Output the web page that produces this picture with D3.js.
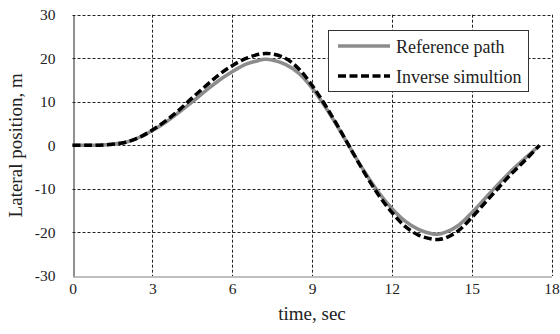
<!DOCTYPE html>
<html>
<head>
<meta charset="utf-8">
<script src="https://cdn.jsdelivr.net/npm/d3@7"></script>
<style>
  html, body { margin: 0; padding: 0; background: #fff; }
  svg { display: block; }
  text { font-family: "Liberation Serif", "Times New Roman", serif; fill: #222; }
</style>
</head>
<body>
<svg id="chart" width="560" height="334"></svg>
<script>
// Time samples (s) shared by both series
const timeSec = [0, 0.5, 1, 1.5, 2, 2.5, 3, 3.5, 4, 4.5, 5, 5.5, 6, 6.5, 7, 7.25, 7.5, 8, 8.5, 9,
  9.5, 10, 10.5, 11, 11.5, 12, 12.5, 13, 13.5, 13.75, 14, 14.5, 15, 15.5, 16, 16.5, 17, 17.55];

// Lateral position of the reference path (m)
const referencePath = [0, 0, 0.05, 0.25, 0.7, 1.8, 3.4, 5.3, 7.6, 10.0, 12.5, 14.9, 16.9, 18.6, 19.5, 19.75, 19.6, 18.6, 16.6, 13.2,
  8.8, 3.9, -1.3, -6.3, -10.8, -14.5, -17.4, -19.3, -20.3, -20.4, -20.0, -18.4, -15.5, -12.2, -8.9, -5.8, -3.0, 0];

// Lateral position from the inverse simulation (m)
const inverseSimulation = [0, 0, 0.05, 0.25, 0.7, 1.8, 3.5, 5.6, 8.1, 10.9, 13.6, 16.2, 18.3, 19.9, 20.9, 21.1, 21.0, 20.0, 17.6, 13.8,
  9.2, 4.1, -1.3, -6.6, -11.4, -15.4, -18.6, -20.6, -21.5, -21.6, -21.3, -19.6, -16.6, -13.2, -9.8, -6.5, -3.5, 0];

const xTicks = [0, 3, 6, 9, 12, 15, 18];
const yTicks = [-30, -20, -10, 0, 10, 20, 30];
const seriesNames = ["Reference path", "Inverse simultion"];
const xTitle = "time, sec";
const yTitle = "Lateral position, m";

const svg = d3.select("#chart");
const x = d3.scaleLinear().domain([0, 18]).range([72.5, 551.5]);
const y = d3.scaleLinear().domain([-30, 30]).range([276, 14.7]);

// Dashed grid
const grid = svg.append("g");
grid.selectAll("line.v").data(xTicks.filter(d => d !== 0)).join("line")
  .attr("x1", d => Math.round(x(d)) + 0.5).attr("x2", d => Math.round(x(d)) + 0.5)
  .attr("y1", y(30)).attr("y2", y(-30))
  .attr("stroke", "#222").attr("stroke-width", 1).attr("stroke-dasharray", "3,2");
grid.selectAll("line.h").data(yTicks.filter(d => d !== -30)).join("line")
  .attr("x1", x(0)).attr("x2", x(18))
  .attr("y1", d => Math.round(y(d)) + 0.5).attr("y2", d => Math.round(y(d)) + 0.5)
  .attr("stroke", "#222").attr("stroke-width", 1).attr("stroke-dasharray", "3,2");

// Axes (plain hyphen for negative labels)
const fmt = d => String(d);
const xAxis = svg.append("g").attr("transform", `translate(0,${Math.round(y(-30)) + 0.5})`)
  .call(d3.axisBottom(x).tickValues(xTicks).tickFormat(fmt).tickSize(0).tickPadding(6));
xAxis.select(".domain").attr("stroke", "#808080");
xAxis.selectAll("text").style("font-size", "15.5px").attr("fill", "#222")
  .style("font-family", "'Liberation Serif', serif");

const yAxis = svg.append("g").attr("transform", `translate(${Math.round(x(0)) + 0.5},0)`)
  .call(d3.axisLeft(y).tickValues(yTicks).tickFormat(fmt).tickSize(0).tickPadding(18));
yAxis.select(".domain").attr("stroke", "#222");
yAxis.selectAll("text").style("font-size", "15.5px").attr("fill", "#222")
  .style("font-family", "'Liberation Serif', serif");

// Axis titles
svg.append("text").attr("x", x(9)).attr("y", 320).attr("text-anchor", "middle")
  .style("font-size", "19px").text(xTitle);
svg.append("text").attr("transform", `translate(22,${y(0)}) rotate(-90)`)
  .attr("text-anchor", "middle").style("font-size", "19px").text(yTitle);

// Series lines
const line = vals => d3.line()
  .x((d, i) => x(timeSec[i]))
  .y(d => y(d))
  .curve(d3.curveCatmullRom.alpha(0.5))(vals);

svg.append("path").attr("d", line(referencePath))
  .attr("fill", "none").attr("stroke", "#8c8c8c").attr("stroke-width", 3.5);
svg.append("path").attr("d", line(inverseSimulation))
  .attr("fill", "none").attr("stroke", "#000").attr("stroke-width", 3.5)
  .attr("stroke-dasharray", "8,3.5");

// Legend
const lg = svg.append("g");
lg.append("rect").attr("x", 328.5).attr("y", 30.5).attr("width", 200).attr("height", 61)
  .attr("fill", "#fff").attr("stroke", "#333").attr("stroke-width", 1);
const legendStyles = [
  { stroke: "#8c8c8c", dash: null },
  { stroke: "#000", dash: "8,3.5" }
];
seriesNames.forEach((name, i) => {
  const cy = 46 + i * 30;
  lg.append("line").attr("x1", 338).attr("x2", 390).attr("y1", cy).attr("y2", cy)
    .attr("stroke", legendStyles[i].stroke).attr("stroke-width", 3.5)
    .attr("stroke-dasharray", legendStyles[i].dash);
  lg.append("text").attr("x", 396).attr("y", cy + 6.5)
    .style("font-size", "18px").text(name);
});
</script>
</body>
</html>
